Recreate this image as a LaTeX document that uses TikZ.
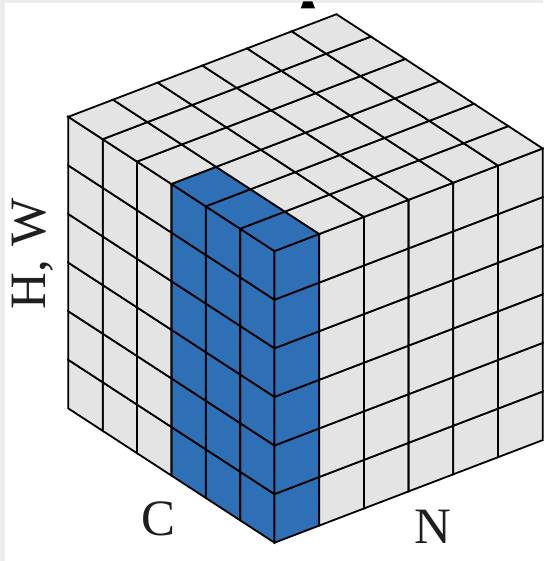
\documentclass[tikz,border=0pt]{standalone}
\usepackage{fontspec}
\setmainfont{Liberation Serif}
\definecolor{cubeblue}{RGB}{46,111,181}
\definecolor{cubegrey}{RGB}{228,228,228}
\definecolor{framegrey}{RGB}{236,236,236}
\begin{document}
\begin{tikzpicture}[x=1pt, y=1pt,
        cell/.style={draw=black, line width=1.8pt},
        axislabel/.style={font=\fontsize{51}{60}\selectfont, text=black!88, inner sep=0pt, anchor=base}]
            % Define frame
            \fill[framegrey] (0,0) rectangle (543,-561);
            \fill[white] (5,-3) rectangle (543,-561);
            \useasboundingbox (0,0) rectangle (543,-561);
            \fill (300.7,-8.3) -- (303.3,-1.5) -- (312.3,-1.5) -- (315,-8.3) -- cycle;

            % Draw cube faces
            \begin{scope}[shift={(274.5,-542.7)}, x={(-34.37pt,22.38pt)}, y={(44.7pt,17.1pt)}, z={(0pt,48.6pt)}]
                % left face (C, H)
                \foreach \i in {0,...,5}
                    \foreach \k in {0,...,5} {
                        \ifnum\i<3 \def\tint{cubeblue}\else \def\tint{cubegrey}\fi
                        \filldraw[cell, fill=\tint] (\i,0,\k) -- ++(1,0,0) -- ++(0,0,1) -- ++(-1,0,0) -- cycle;
                    }
                % right face (N, H)
                \foreach \j in {0,...,5}
                    \foreach \k in {0,...,5} {
                        \ifnum\j=0 \def\tint{cubeblue}\else \def\tint{cubegrey}\fi
                        \filldraw[cell, fill=\tint] (0,\j,\k) -- ++(0,1,0) -- ++(0,0,1) -- ++(0,-1,0) -- cycle;
                    }
                % top face (C, N)
                \foreach \i in {0,...,5}
                    \foreach \j in {0,...,5} {
                        \def\tint{cubegrey}
                        \ifnum\j=0 \ifnum\i<3 \def\tint{cubeblue}\fi\fi
                        \filldraw[cell, fill=\tint] (\i,\j,6) -- ++(1,0,0) -- ++(0,1,0) -- ++(-1,0,0) -- cycle;
                    }
            \end{scope}

            % Define labels
            \node[axislabel, rotate=90] (hw) at (45,-254) {H, W};
            \node[axislabel] (c) at (159,-535) {C};
            \node[axislabel] (n) at (433,-543) {N};
        \end{tikzpicture}
\end{document}
